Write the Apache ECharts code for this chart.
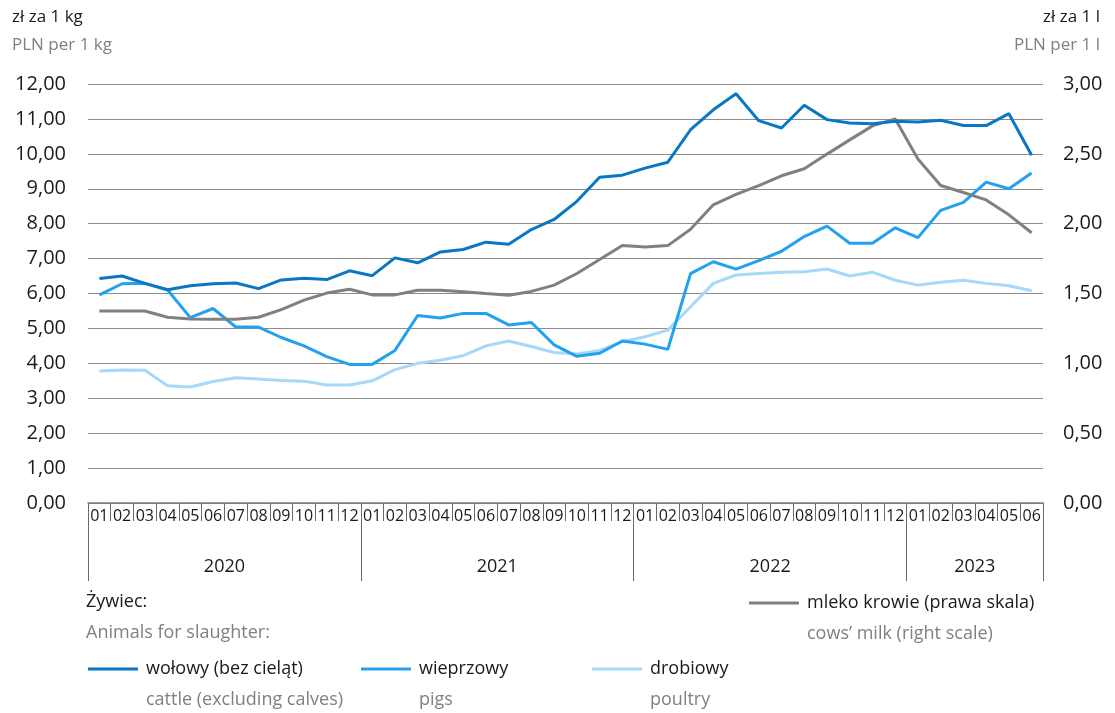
<!DOCTYPE html>
<html>
<head>
<meta charset="utf-8">
<script src="https://cdn.jsdelivr.net/npm/echarts@6/dist/echarts.min.js"></script>
<style>
html,body{margin:0;padding:0;background:#fff;}
#chart{width:1115px;height:713px;}
</style>
</head>
<body>
<div id="chart"></div>
<script>
// ---- DATA ----
const months = ['01','02','03','04','05','06','07','08','09','10','11','12',
                '01','02','03','04','05','06','07','08','09','10','11','12',
                '01','02','03','04','05','06','07','08','09','10','11','12',
                '01','02','03','04','05','06'];
const years = ['2020','2021','2022','2023'];
const monthsPerYear = [12,12,12,6];

// zł za 1 kg (left scale)
const wolowy = [6.43,6.50,6.29,6.11,6.22,6.28,6.30,6.14,6.39,6.44,6.40,6.65,
                6.51,7.02,6.88,7.19,7.26,7.47,7.41,7.83,8.12,8.64,9.33,9.39,
                9.59,9.76,10.69,11.26,11.72,10.95,10.74,11.39,10.98,10.88,10.86,10.93,
                10.91,10.96,10.81,10.81,11.15,9.96];
const wieprzowy = [5.96,6.28,6.29,6.10,5.31,5.57,5.04,5.04,4.74,4.50,4.19,3.97,
                   3.97,4.37,5.37,5.30,5.43,5.43,5.10,5.17,4.53,4.20,4.29,4.64,
                   4.55,4.40,6.57,6.91,6.70,6.94,7.21,7.63,7.93,7.44,7.44,7.88,
                   7.60,8.38,8.61,9.19,9.00,9.45];
const drobiowy = [3.78,3.81,3.80,3.36,3.32,3.48,3.59,3.55,3.51,3.49,3.38,3.38,
                  3.50,3.82,4.00,4.09,4.22,4.50,4.64,4.48,4.31,4.27,4.37,4.62,
                  4.76,4.95,5.62,6.29,6.53,6.57,6.61,6.62,6.70,6.50,6.61,6.38,
                  6.24,6.32,6.38,6.29,6.22,6.08];
// zł za 1 l (right scale)
const mleko = [1.375,1.375,1.375,1.330,1.318,1.315,1.315,1.330,1.385,1.453,1.503,1.530,
               1.490,1.490,1.523,1.523,1.513,1.500,1.488,1.515,1.560,1.643,1.743,1.843,
               1.833,1.843,1.960,2.135,2.210,2.273,2.343,2.393,2.498,2.600,2.700,2.750,
               2.463,2.273,2.223,2.170,2.063,1.935];

const names = {
  wolowy: ['wołowy (bez cieląt)', 'cattle (excluding calves)'],
  wieprzowy: ['wieprzowy', 'pigs'],
  drobiowy: ['drobiowy', 'poultry'],
  mleko: ['mleko krowie (prawa skala)', 'cows\u2019 milk (right scale)']
};

// year boundaries / centres derived from months per year
const yearBounds = [0];
const yearCentres = [];
monthsPerYear.forEach(n => {
  const s = yearBounds[yearBounds.length - 1];
  yearCentres.push(s + n / 2);
  yearBounds.push(s + n);
});

const FONT = '"Open Sans", "Noto Sans", sans-serif';
const BLACK = '#1a1a1a';
const GREY = '#808080';
const C_WOL = '#0a77c4', C_WIE = '#22a1f0', C_DRO = '#a6d8fa', C_MLE = '#808080';

const fmt = v => v.toFixed(2).replace('.', ',');

const legendRich = {
  s: {fontSize: 18, lineHeight: 31, fontFamily: FONT},
  a: {fontSize: 18, lineHeight: 31, color: BLACK, fontFamily: FONT, padding: [0,0,0,3]},
  b: {fontSize: 18, lineHeight: 31, color: GREY, fontFamily: FONT, padding: [0,0,0,3]}
};
const legendFmt = key => () => '{s| }\n{a|' + names[key][0] + '}\n{b|' + names[key][1] + '}';
function mkLegend(key, left, top) {
  return {
    data: [names[key][0]], left: left, top: top, padding: 0,
    icon: 'rect', itemWidth: 50, itemHeight: 3,
    formatter: legendFmt(key),
    textStyle: {rich: legendRich, fontFamily: FONT},
    selectedMode: false
  };
}
function mkTitle(text, color, pos, top, size) {
  return Object.assign({text: text, top: top, padding: 0,
    textStyle: {fontSize: size, fontWeight: 'normal', color: color, fontFamily: FONT}}, pos);
}

const chart = echarts.init(document.getElementById('chart'), null, {renderer: 'canvas'});
chart.setOption({
  animation: false,
  textStyle: {fontFamily: FONT},
  title: [
    mkTitle('zł za 1 kg', BLACK, {left: 12}, 9, 17),
    mkTitle('PLN per 1 kg', GREY, {left: 12}, 37, 17),
    mkTitle('zł za 1 l', BLACK, {right: 15}, 9, 17),
    mkTitle('PLN per 1 l', GREY, {right: 15}, 37, 17),
    mkTitle('Żywiec:', BLACK, {left: 86}, 593, 18),
    mkTitle('Animals for slaughter:', GREY, {left: 86}, 624, 18)
  ],
  legend: [
    mkLegend('wolowy', 88, 629),
    mkLegend('wieprzowy', 361, 629),
    mkLegend('drobiowy', 592, 629),
    mkLegend('mleko', 749, 563)
  ],
  grid: {left: 88, right: 72, top: 84, bottom: 210, containLabel: false},
  xAxis: [
    {
      type: 'category', data: months, boundaryGap: true,
      axisLine: {show: true, lineStyle: {color: '#7a7a7a', width: 1.5}},
      axisTick: {show: true, interval: 0, length: 18, lineStyle: {color: '#6a6a6a', width: 1}},
      axisLabel: {interval: 0, margin: 5, fontSize: 16, color: BLACK, fontFamily: FONT},
      splitLine: {show: false}
    },
    {
      type: 'value', min: 0, max: months.length, position: 'bottom',
      axisLine: {show: false},
      axisTick: {show: true, customValues: yearBounds, length: 78, lineStyle: {color: '#6a6a6a', width: 1}},
      axisLabel: {customValues: yearCentres, margin: 55, fontSize: 18, color: BLACK, fontFamily: FONT,
                  formatter: v => years[yearCentres.indexOf(v)]},
      splitLine: {show: false}
    }
  ],
  yAxis: [
    {
      type: 'value', min: 0, max: 12, interval: 1, position: 'left',
      axisLine: {show: false}, axisTick: {show: false},
      axisLabel: {formatter: fmt, fontSize: 20, color: BLACK, margin: 22, fontFamily: FONT},
      splitLine: {show: true, lineStyle: {color: '#8c8c8c', width: 1.2}}
    },
    {
      type: 'value', min: 0, max: 3, interval: 0.5, position: 'right',
      axisLine: {show: false}, axisTick: {show: false},
      axisLabel: {formatter: fmt, fontSize: 20, color: BLACK, margin: 20, fontFamily: FONT},
      splitLine: {show: false}
    }
  ],
  series: [
    {name: names.drobiowy[0], type: 'line', data: drobiowy, yAxisIndex: 0, xAxisIndex: 0,
     symbol: 'none', lineStyle: {color: C_DRO, width: 3}, itemStyle: {color: C_DRO}},
    {name: names.wieprzowy[0], type: 'line', data: wieprzowy, yAxisIndex: 0, xAxisIndex: 0,
     symbol: 'none', lineStyle: {color: C_WIE, width: 3}, itemStyle: {color: C_WIE}},
    {name: names.mleko[0], type: 'line', data: mleko, yAxisIndex: 1, xAxisIndex: 0,
     symbol: 'none', lineStyle: {color: C_MLE, width: 3}, itemStyle: {color: C_MLE}},
    {name: names.wolowy[0], type: 'line', data: wolowy, yAxisIndex: 0, xAxisIndex: 0,
     symbol: 'none', lineStyle: {color: C_WOL, width: 3}, itemStyle: {color: C_WOL}}
  ]
});
</script>
</body>
</html>
